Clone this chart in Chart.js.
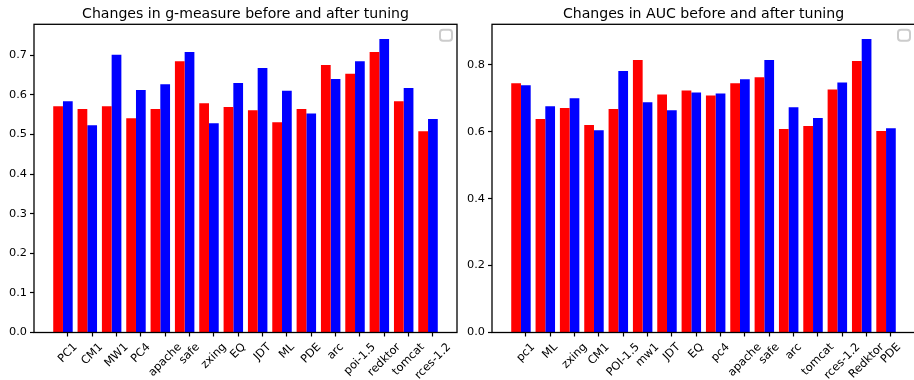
<!DOCTYPE html>
<html><head><meta charset="utf-8">
<script src="https://cdn.jsdelivr.net/npm/chart.js@4/dist/chart.umd.min.js"></script>
<style>
html,body{margin:0;padding:0;background:#fff;overflow:hidden;width:914px;height:380px;position:relative}
canvas{position:absolute;top:0;display:block}
</style></head><body>
<canvas id="g" width="462" height="380" style="left:0;width:462px;height:380px"></canvas>
<canvas id="a" width="462" height="380" style="left:458px;width:462px;height:380px"></canvas>
<script>
const gTitle = "Changes in g-measure before and after tuning";
const gLabels = ["PC1","CM1","MW1","PC4","apache","safe","zxing","EQ","JDT","ML","PDE","arc","poi-1.5","redktor","tomcat","rces-1.2"];
const gBefore = [0.571,0.564,0.571,0.541,0.564,0.685,0.579,0.569,0.561,0.531,0.564,0.675,0.653,0.708,0.584,0.508];
const gAfter  = [0.584,0.523,0.701,0.612,0.627,0.708,0.528,0.630,0.668,0.610,0.553,0.640,0.685,0.741,0.617,0.539];
const gYTicks = [0.0,0.1,0.2,0.3,0.4,0.5,0.6,0.7];

const aucTitle = "Changes in AUC before and after tuning";
const aucLabels = ["pc1","ML","zxing","CM1","POI-1.5","mw1","JDT","EQ","pc4","apache","safe","arc","tomcat","rces-1.2","Redktor","PDE"];
const aucBefore = [0.745,0.638,0.671,0.620,0.668,0.814,0.711,0.723,0.708,0.745,0.763,0.608,0.617,0.726,0.811,0.602];
const aucAfter  = [0.739,0.676,0.700,0.604,0.781,0.688,0.664,0.717,0.714,0.757,0.814,0.673,0.641,0.747,0.877,0.610];
const aucYTicks = [0.0,0.2,0.4,0.6,0.8];

const FONT = "'DejaVu Sans', sans-serif";
const TICK_PX = 11.3;

function mplPlugin(title, labels){
  return {
    id:'mpl',
    afterDraw(chart){
      const {ctx, chartArea:ca} = chart;
      const x = chart.scales.x;
      ctx.save();
      // axes frame
      ctx.strokeStyle = '#000'; ctx.lineWidth = 1.3;
      ctx.strokeRect(ca.left, ca.top, ca.right - ca.left, ca.bottom - ca.top);
      // title
      ctx.fillStyle = '#000';
      ctx.font = '14.1px ' + FONT;
      ctx.textAlign = 'center'; ctx.textBaseline = 'alphabetic';
      ctx.fillText(title, (ca.left + ca.right)/2, ca.top - 6);
      // empty legend frame
      const bw = 12, bh = 11, r = 3;
      const bx = ca.right - 5 - bw, by = ca.top + 5.5;
      ctx.beginPath();
      ctx.moveTo(bx + r, by);
      ctx.lineTo(bx + bw - r, by); ctx.arcTo(bx + bw, by, bx + bw, by + r, r);
      ctx.lineTo(bx + bw, by + bh - r); ctx.arcTo(bx + bw, by + bh, bx + bw - r, by + bh, r);
      ctx.lineTo(bx + r, by + bh); ctx.arcTo(bx, by + bh, bx, by + bh - r, r);
      ctx.lineTo(bx, by + r); ctx.arcTo(bx, by, bx + r, by, r);
      ctx.closePath();
      ctx.fillStyle = 'rgba(255,255,255,0.8)'; ctx.fill();
      ctx.strokeStyle = '#cccccc'; ctx.lineWidth = 2; ctx.stroke();
      // rotated x labels (centered like matplotlib rotation=45)
      ctx.fillStyle = '#000';
      ctx.font = TICK_PX + 'px ' + FONT;
      const h = TICK_PX * 1.164;
      x.ticks.forEach((t, i) => {
        const px = x.getPixelForValue(t.value);
        const w = ctx.measureText(labels[i]).width;
        const cy = ca.bottom + 8.2 + (w + h) / (2 * Math.SQRT2);
        ctx.save();
        ctx.translate(px, cy);
        ctx.rotate(-Math.PI / 4);
        ctx.textAlign = 'center'; ctx.textBaseline = 'middle';
        ctx.fillText(labels[i], 0, 0);
        ctx.restore();
      });
      ctx.restore();
    }
  };
}

function makeChart(id, title, labels, before, after, yTicks){
  const n = labels.length;
  const width = 0.4;
  const lo = -width/2, hi = (n - 1) + width + width/2;
  const span = hi - lo;
  const yMax = Math.max(...before, ...after) * 1.05;
  return new Chart(document.getElementById(id), {
    type: 'bar',
    data: {
      datasets: [
        { data: before.map((v, i) => ({x: i + width/2, y: v})), backgroundColor: '#ff0000',
          borderWidth: 0, categoryPercentage: 0.8, barPercentage: 1.0 },
        { data: after.map((v, i) => ({x: i + width/2, y: v})), backgroundColor: '#0000ff',
          borderWidth: 0, categoryPercentage: 0.8, barPercentage: 1.0 }
      ]
    },
    options: {
      responsive: false, maintainAspectRatio: false, animation: false, devicePixelRatio: 1,
      layout: { padding: { top: 24.3, right: 5, left: 0, bottom: 0 } },
      plugins: { legend: { display: false }, tooltip: { enabled: false }, title: { display: false } },
      scales: {
        x: {
          type: 'linear', min: lo - 0.05 * span, max: hi + 0.05 * span, bounds: 'data', offset: false,
          grid: { display: true, drawOnChartArea: false, drawTicks: true, tickLength: 4, tickColor: '#000', tickWidth: 1.2, offset: false },
          border: { display: false },
          ticks: { display: false, autoSkip: false },
          afterBuildTicks: s => { s.ticks = labels.map((_, i) => ({ value: i + width })); },
          afterFit: s => { s.height = 47.5; }
        },
        y: {
          min: 0, max: yMax, bounds: 'data',
          grid: { display: true, drawOnChartArea: false, drawTicks: true, tickLength: 4, tickColor: '#000', tickWidth: 1.2 },
          border: { display: false },
          ticks: { color: '#000', font: { family: FONT, size: TICK_PX }, padding: 3, autoSkip: false,
                   callback: v => Number(v).toFixed(1) },
          afterBuildTicks: s => { s.ticks = yTicks.map(v => ({ value: v })); },
          afterFit: s => { s.width = 34; }
        }
      }
    },
    plugins: [mplPlugin(title, labels)]
  });
}

makeChart('g', gTitle, gLabels, gBefore, gAfter, gYTicks);
makeChart('a', aucTitle, aucLabels, aucBefore, aucAfter, aucYTicks);
</script>
</body></html>
